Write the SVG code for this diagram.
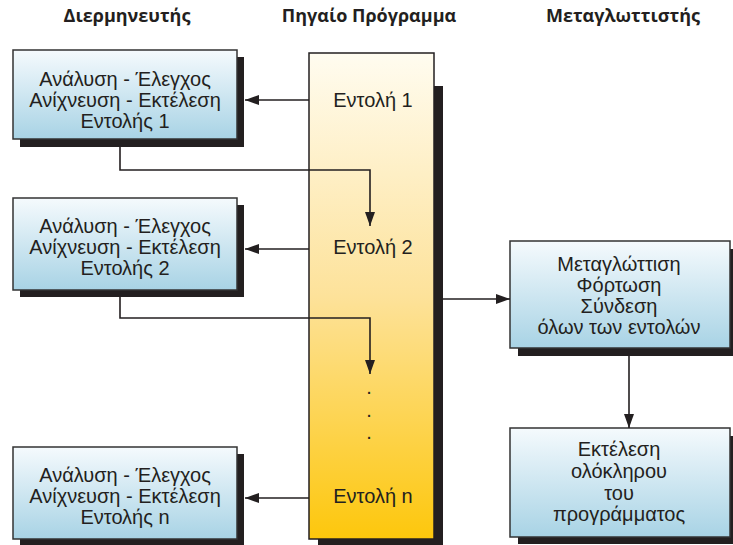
<svg xmlns="http://www.w3.org/2000/svg" width="733" height="545" viewBox="0 0 733 545">
<defs>
<linearGradient id="blue" x1="0" y1="0" x2="0" y2="1">
<stop offset="0" stop-color="#f5fafd"/>
<stop offset="1" stop-color="#a8d3e5"/>
</linearGradient>
<linearGradient id="gold" x1="0" y1="0" x2="0" y2="1">
<stop offset="0" stop-color="#fffcf0"/>
<stop offset="0.5" stop-color="#fde29a"/>
<stop offset="1" stop-color="#fdc70c"/>
</linearGradient>
<marker id="ah2" viewBox="0 0 14 10" refX="14" refY="5" markerWidth="14" markerHeight="10" markerUnits="userSpaceOnUse" orient="auto">
<path d="M0,0 L14,5 L0,10 z" fill="#231f20"/>
</marker>
</defs>
<style>
.hdr{font-family:"Open Sans","Liberation Sans",sans-serif;font-weight:bold;font-size:18px;fill:#231f20;text-anchor:middle}
.t{font-family:"Liberation Sans",Arial,sans-serif;font-size:20px;fill:#231f20;text-anchor:middle}
.box{fill:url(#blue);stroke:#333;stroke-width:1.5}
.sh{fill:#231f20}
.ln{fill:none;stroke:#231f20;stroke-width:1.6}
</style>
<text class="hdr" x="127" y="22">Διερμηνευτής</text>
<text class="hdr" x="369" y="22">Πηγαίο Πρόγραμμα</text>
<text class="hdr" x="623" y="22">Μεταγλωττιστής</text>

<g id="source">
<rect class="sh" x="318" y="86" width="125" height="462"/>
<rect x="309" y="53" width="125" height="486" fill="url(#gold)" stroke="#231f20" stroke-width="1.5"/>
<text class="t" x="373" y="107">Εντολή 1</text>
<text class="t" x="373" y="254">Εντολή 2</text>
<text class="t" x="369" y="394">.</text>
<text class="t" x="369" y="417">.</text>
<text class="t" x="369" y="439">.</text>
<text class="t" x="373" y="503">Εντολή n</text>
</g>

<g id="interp1">
<rect class="sh" x="20" y="57" width="224" height="90"/>
<rect class="box" x="13" y="50" width="224" height="89"/>
<text class="t" x="125" y="86">Ανάλυση - Έλεγχος</text>
<text class="t" x="125" y="107">Ανίχνευση - Εκτέλεση</text>
<text class="t" x="125" y="128">Εντολής 1</text>
</g>
<g id="interp2">
<rect class="sh" x="20" y="205" width="224" height="92"/>
<rect class="box" x="13" y="198" width="224" height="92"/>
<text class="t" x="125" y="233">Ανάλυση - Έλεγχος</text>
<text class="t" x="125" y="254">Ανίχνευση - Εκτέλεση</text>
<text class="t" x="125" y="275">Εντολής 2</text>
</g>
<g id="interpn">
<rect class="sh" x="20" y="454" width="224" height="92"/>
<rect class="box" x="13" y="447" width="224" height="92"/>
<text class="t" x="125" y="482">Ανάλυση - Έλεγχος</text>
<text class="t" x="125" y="503">Ανίχνευση - Εκτέλεση</text>
<text class="t" x="125" y="524">Εντολής n</text>
</g>

<g id="compile">
<rect class="sh" x="518" y="249" width="220" height="107"/>
<rect class="box" x="510" y="241" width="220" height="107"/>
<text class="t" x="619" y="271">Μεταγλώττιση</text>
<text class="t" x="619" y="292">Φόρτωση</text>
<text class="t" x="619" y="313">Σύνδεση</text>
<text class="t" x="619" y="334">όλων των εντολών</text>
</g>
<g id="execute">
<rect class="sh" x="518" y="436" width="220" height="108"/>
<rect class="box" x="510" y="428" width="220" height="109"/>
<text class="t" x="619" y="456">Εκτέλεση</text>
<text class="t" x="619" y="478">ολόκληρου</text>
<text class="t" x="619" y="500">του</text>
<text class="t" x="619" y="521">προγράμματος</text>
</g>

<g id="connectors">
<path class="ln" d="M309,100 H245" marker-end="url(#ah2)"/>
<path class="ln" d="M309,249 H245" marker-end="url(#ah2)"/>
<path class="ln" d="M309,498 H245" marker-end="url(#ah2)"/>
<path class="ln" d="M120,147 V170 H370 V226" marker-end="url(#ah2)"/>
<path class="ln" d="M120,297 V318 H370 V374" marker-end="url(#ah2)"/>
<path class="ln" d="M443,299 H510" marker-end="url(#ah2)"/>
<path class="ln" d="M629,356 V428" marker-end="url(#ah2)"/>
</g>
</svg>
